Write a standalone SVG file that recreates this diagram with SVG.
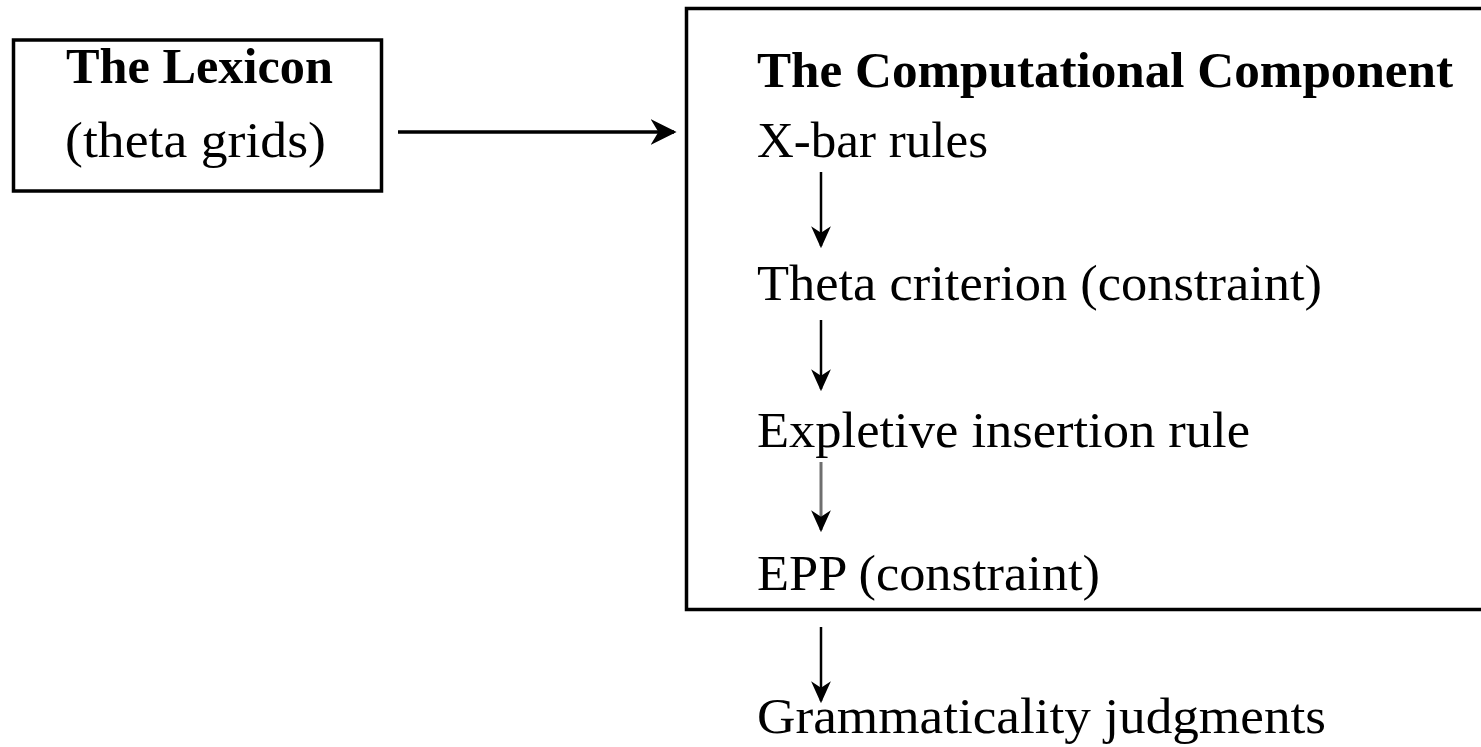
<svg xmlns="http://www.w3.org/2000/svg" width="1481" height="747" viewBox="0 0 1481 747">
<style>
.box{fill:#fff;stroke:#000;stroke-width:3.5}
.t{font-family:"Liberation Serif","DejaVu Serif",serif;font-size:51px;fill:#000}
.b{font-weight:bold}
.c{fill:none;stroke:#000;stroke-width:2.5}
.h{stroke-width:3.5}
.g{stroke:#6f6f6f;stroke-width:3}
</style>
<defs>
<marker id="ah" viewBox="0 0 10 10" refX="9" refY="5" markerWidth="26" markerHeight="26" markerUnits="userSpaceOnUse" orient="auto">
<path d="M0,0 L10,5 L0,10 L3,5 z" fill="#000"/>
</marker>
<marker id="ahs" viewBox="0 0 10 10" refX="9" refY="5" markerWidth="22" markerHeight="22" markerUnits="userSpaceOnUse" orient="auto">
<path d="M0,0.5 L10,5 L0,9.5 L3,5 z" fill="#000"/>
</marker>
</defs>
<rect width="1481" height="747" fill="#fff"/>
<g id="lexicon">
<rect class="box" x="13.5" y="40" width="368" height="151"/>
<text class="t b" x="66" y="83" textLength="267" lengthAdjust="spacingAndGlyphs">The Lexicon</text>
<text class="t" x="65" y="157" textLength="261" lengthAdjust="spacingAndGlyphs">(theta grids)</text>
</g>
<g id="computational">
<rect class="box" x="686.5" y="8.5" width="820" height="601"/>
<text class="t b" x="757" y="87" textLength="696" lengthAdjust="spacingAndGlyphs">The Computational Component</text>
</g>
<g id="xbar"><text class="t" x="757" y="157" textLength="231" lengthAdjust="spacingAndGlyphs">X-bar rules</text></g>
<g id="theta"><text class="t" x="757" y="300" textLength="565" lengthAdjust="spacingAndGlyphs">Theta criterion (constraint)</text></g>
<g id="expletive"><text class="t" x="757" y="447" textLength="493" lengthAdjust="spacingAndGlyphs">Expletive insertion rule</text></g>
<g id="epp"><text class="t" x="757" y="590" textLength="343" lengthAdjust="spacingAndGlyphs">EPP (constraint)</text></g>
<g id="grammaticality"><text class="t" x="757" y="733" textLength="569" lengthAdjust="spacingAndGlyphs">Grammaticality judgments</text></g>
<g id="connectors">
<line class="c h" x1="398" y1="132" x2="674" y2="132" marker-end="url(#ah)"/>
<line class="c" x1="821" y1="172" x2="821" y2="246" marker-end="url(#ahs)"/>
<line class="c" x1="821" y1="320" x2="821" y2="389" marker-end="url(#ahs)"/>
<line class="c g" x1="821" y1="462" x2="821" y2="530" marker-end="url(#ahs)"/>
<line class="c" x1="821" y1="627" x2="821" y2="701" marker-end="url(#ahs)"/>
</g>
</svg>
